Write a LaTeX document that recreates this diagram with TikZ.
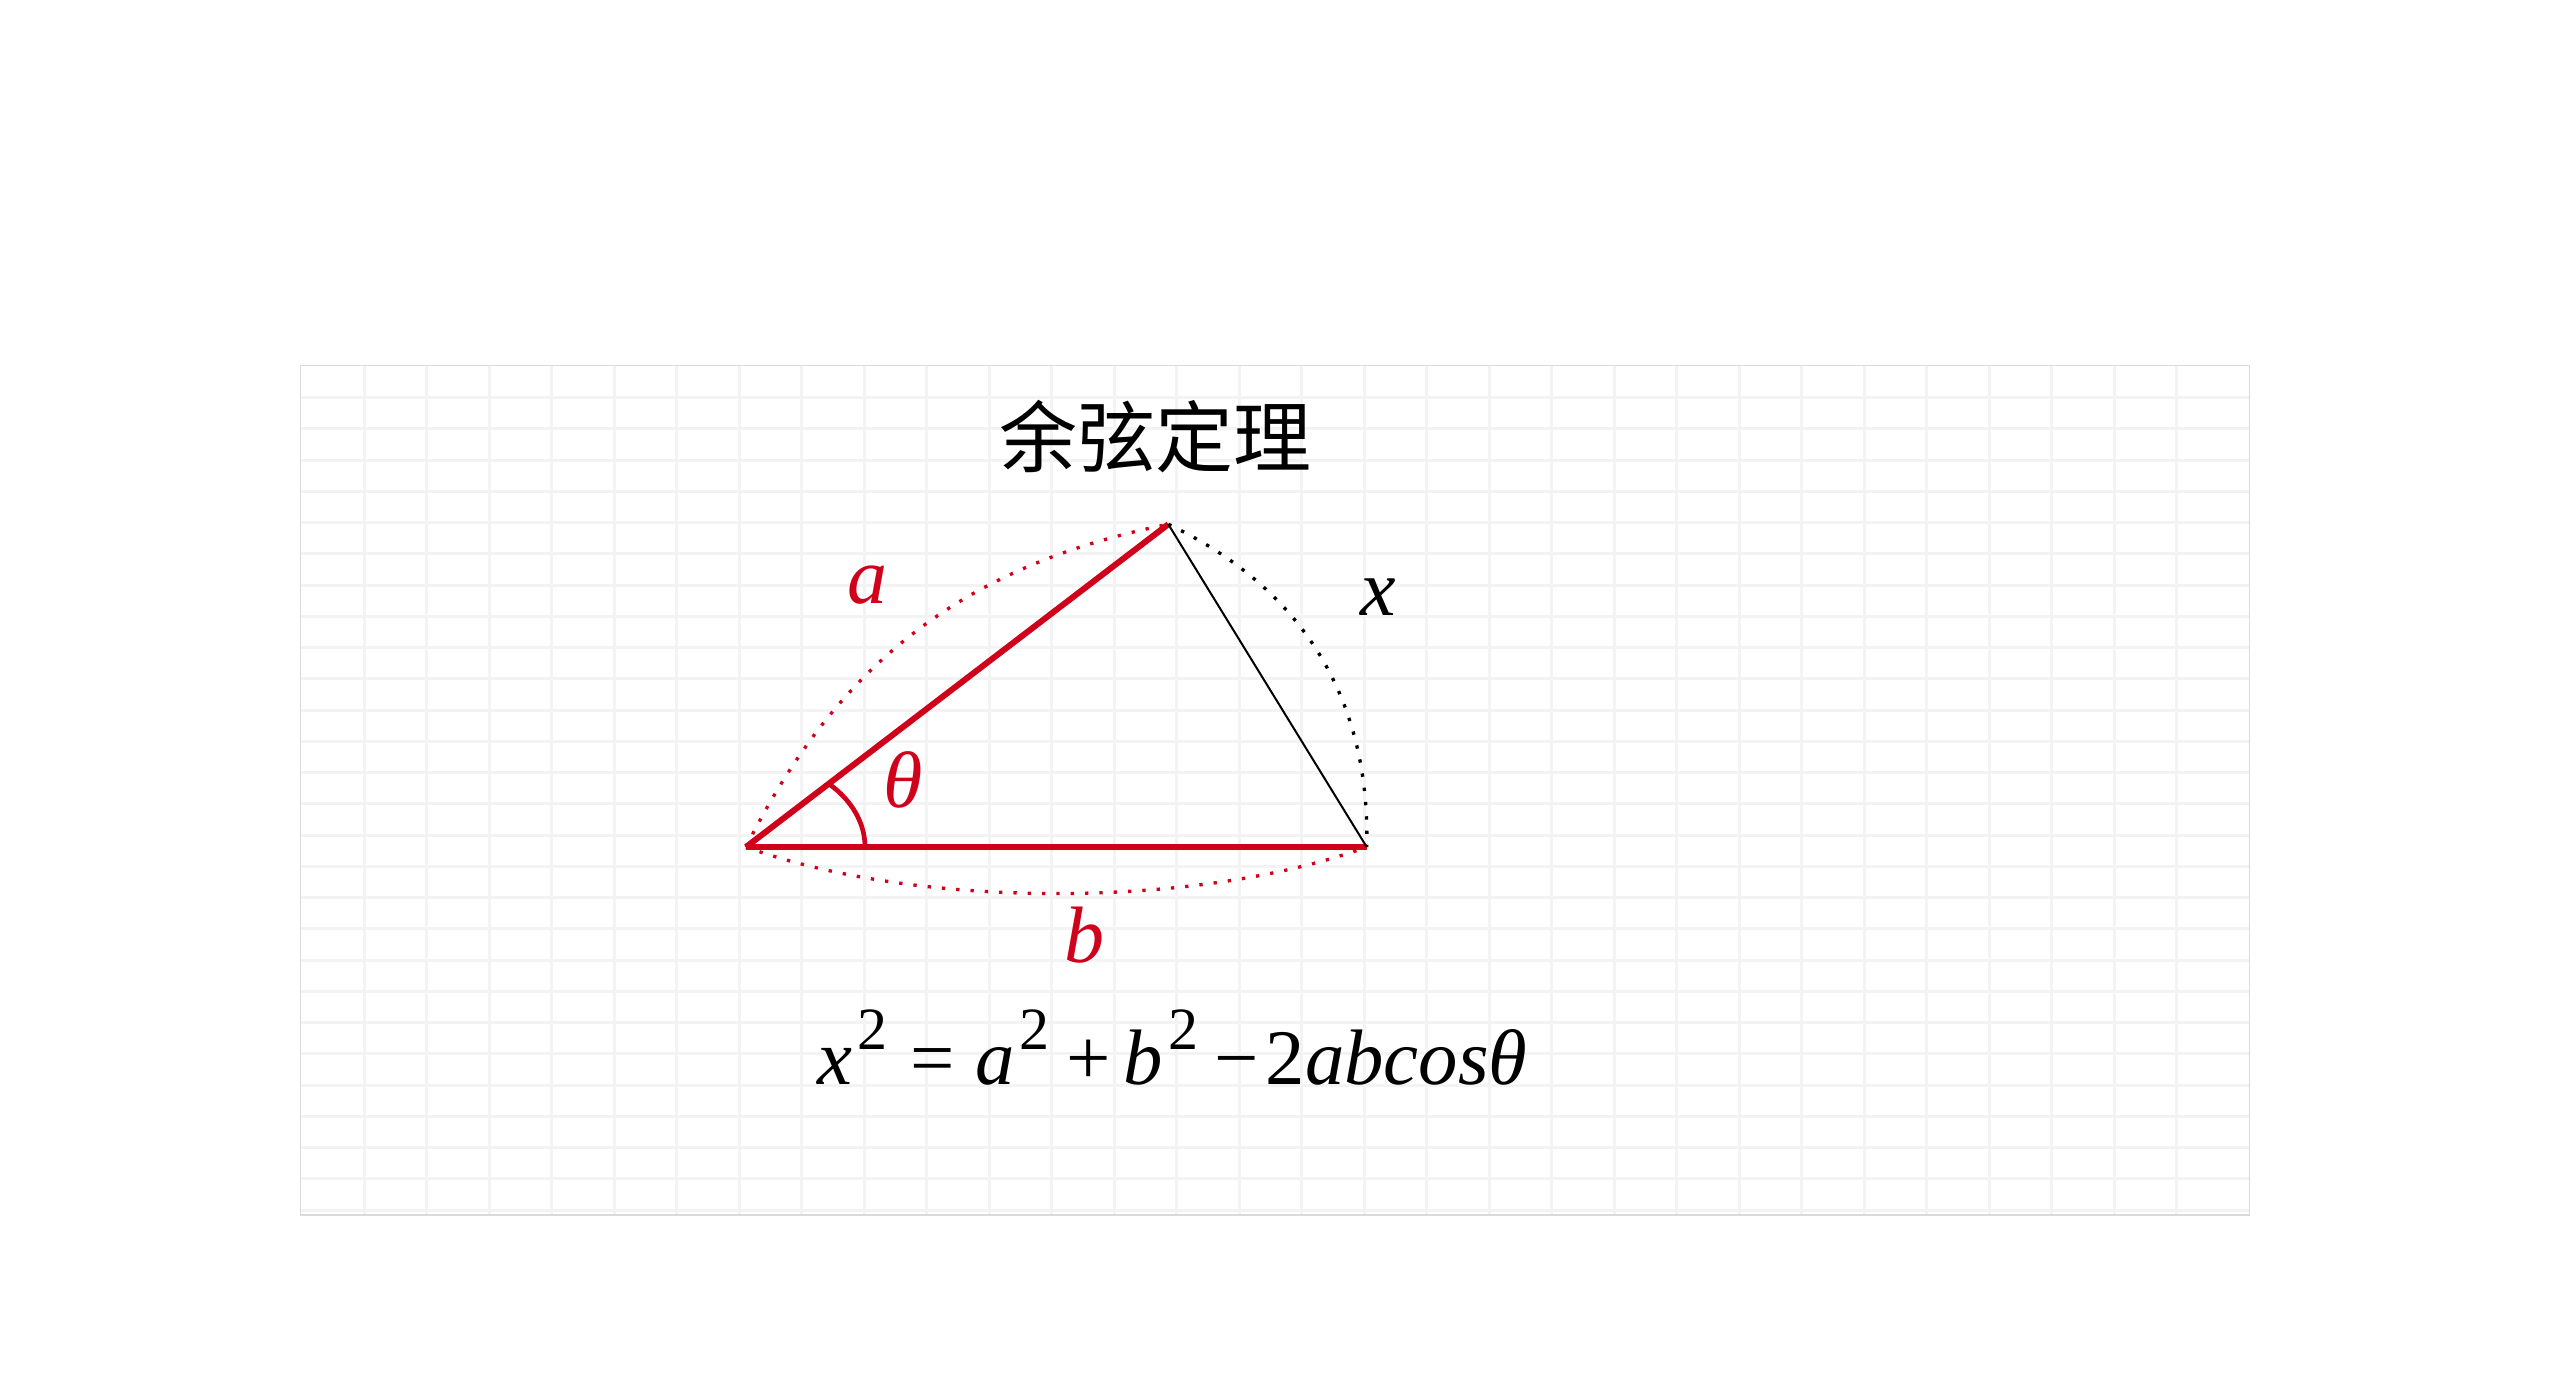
\documentclass[tikz,border=0pt]{standalone}
\usepackage{fontspec}
\setmainfont{Liberation Serif}
\newfontfamily\cjk{Noto Sans CJK SC}
\definecolor{myred}{RGB}{208,2,27}
\definecolor{gridgray}{RGB}{243,243,243}
\definecolor{framegray}{RGB}{218,218,218}
\newcommand\supii{\hspace{1.5pt}\raisebox{10.5pt}{\fontsize{18pt}{18pt}\selectfont 2}}
\begin{document}
\begin{tikzpicture}[x=0.3pt,y=0.3pt,
  gridline/.style={gridgray, line width=0.9pt},
  frameline/.style={framegray, line width=0.45pt},
  sidered/.style={myred, line width=1.8pt},
  sideblack/.style={black, line width=0.6pt},
  anglearc/.style={myred, line width=1.4pt},
  dotarc/.style={line width=1pt, dash pattern=on 1pt off 3.3pt},
  lbl/.style={font=\fontsize{24pt}{28pt}\selectfont\itshape, inner sep=0pt, anchor=base},
  ]
\useasboundingbox (0,0) rectangle (2550,1392);
\fill[white] (0,0) rectangle (2550,1392);
\begin{scope}
\clip (300.7,177) rectangle (2249.3,1026.3);
\foreach \k in {1,...,30} \draw[gridline] ({301.8+62.5*\k},177) -- ++(0,849.3);
\foreach \k in {1,...,27} \draw[gridline] (300.7,{1025.6-31.25*\k}) -- ++(1948.6,0);
\end{scope}
\draw[frameline] (300.7,177) rectangle (2249.3,1026.3);

\coordinate (A) at (746,545);
\coordinate (B) at (1168.3,867.7);
\coordinate (C) at (1366.7,545);
\coordinate (T) at (865,545);

\draw[dotarc, myred] (A) to[bend left=26] (B);
\draw[dotarc, myred] (A) to[bend right=20, looseness=0.75] (C);
\draw[dotarc, black] (B) to[bend left=33] (C);
\draw[sidered] (A) -- (B);
\draw[sidered] (A) -- (C);
\draw[sideblack] (B) -- (C);
\draw[anglearc] (T) arc[start angle=0, end angle=45.3, x radius=119, y radius=88];

\node[lbl, text=myred] (la) at (867.5,788) {a};
\node[lbl] (lx) at (1378,776) {x};
\node[lbl, text=myred] (lt) at (903,584) {θ};
\node[lbl, text=myred] (lb) at (1084,429) {b};
\node[font=\cjk\fontsize{23.4pt}{26pt}\selectfont, inner sep=0pt] (title) at (1155.8,955.3) {余弦定理};
\node[lbl, font=\fontsize{23.6pt}{28pt}\selectfont] (formula) at (1172.5,307) {\textit{x}\supii\hspace{7pt}=\hspace{6pt}\textit{a}\supii\hspace{5pt}+\hspace{4pt}\textit{b}\supii\hspace{5pt}−\hspace{2pt}2\textit{abcosθ}};
\end{tikzpicture}
\end{document}
